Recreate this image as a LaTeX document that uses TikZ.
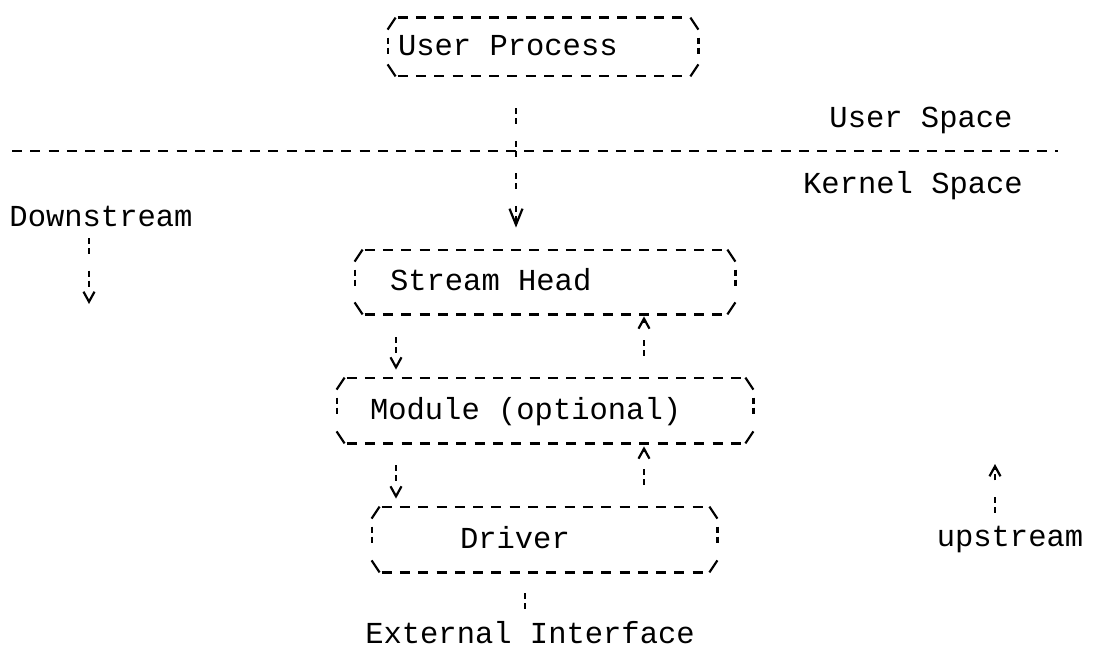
\documentclass[tikz,border=0pt]{standalone}
\usepackage{fontspec}
\setmonofont{Liberation Mono}
\usetikzlibrary{arrows.meta}

% frame of one layer: dashed top and bottom, slanted corners, short sides
\newcommand{\asciibox}[1]{%
  \draw[hdash] ([xshift=5pt]#1.north west) -- ([xshift=-5pt]#1.north east);
  \draw[hdash] ([xshift=5pt]#1.south west) -- ([xshift=-5pt]#1.south east);
  \draw[corner] ([yshift=-6pt]#1.north west) -- ([xshift=4pt]#1.north west);
  \draw[corner] ([yshift=-6pt]#1.north east) -- ([xshift=-4pt]#1.north east);
  \draw[corner] ([yshift=6pt]#1.south west) -- ([xshift=4pt]#1.south west);
  \draw[corner] ([yshift=6pt]#1.south east) -- ([xshift=-4pt]#1.south east);
  \draw[vbar] ([yshift=-10pt]#1.north west) -- ([yshift=10pt]#1.south west);
  \draw[vbar] ([yshift=-10pt]#1.north east) -- ([yshift=10pt]#1.south east);
}

\begin{document}
\begin{tikzpicture}[x=0.5pt,y=-0.5pt,
    lbl/.style={font=\ttfamily\fontsize{15.25}{18}\selectfont,text height=8.7pt,text depth=0pt,inner sep=2pt},
    stage/.style={lbl,align=flush left,inner ysep=0pt},
    hdash/.style={line width=1.1pt,dash pattern=on 5pt off 4.15pt},
    vbar/.style={line width=1.1pt,dash pattern=on 3pt off 2pt on 3pt off 8.25pt},
    corner/.style={line width=1.1pt},
    bigv/.style={-{Straight Barb[length=8pt,width=6.5pt]}},
    smallv/.style={-{Straight Barb[length=5pt,width=5.5pt]}}]
    \useasboundingbox (0,0) rectangle (1098,647);

    % the layers
    \node[stage,inner xsep=5pt,text width=145pt,minimum height=29pt] (up) at (543,47) {User Process};
    \node[stage,inner xsep=17.5pt,text width=155pt,minimum height=32pt] (sh) at (545,282) {Stream Head};
    \node[stage,inner xsep=16.5pt,text width=175pt,minimum height=32.5pt] (mod) at (545,410.5) {Module (optional)};
    \node[stage,inner xsep=44pt,text width=84.5pt,minimum height=32.5pt] (drv) at (544.5,539.5) {Driver};
    \asciibox{up}
    \asciibox{sh}
    \asciibox{mod}
    \asciibox{drv}

    % side labels
    \node[lbl] (usr) at (921,119) {User Space};
    \node[lbl] (krn) at (913,185) {Kernel Space};
    \node[lbl] (dn) at (101,218) {Downstream};
    \node[lbl] (us) at (1010,538) {upstream};
    \node[lbl] (ext) at (530,635) {External Interface};

    % columns of the connectors
    \coordinate (pipe) at (516,0);
    \coordinate (dncol) at (396,0);
    \coordinate (upcol) at (644,0);
    \coordinate (tailcol) at (525,0);
    \coordinate (dnend) at (89,304);
    \coordinate (usend) at (995,464);
    \coordinate (sepl) at (12,151);
    \coordinate (sepr) at (1058,151);

    % user/kernel boundary
    \draw[hdash] (sepl) -- (sepr);

    \draw[vbar,bigv,shorten <=16pt,shorten >=11pt] (up.south -| pipe) -- (sh.north -| pipe);
    \draw[vbar,smallv,shorten <=11.5pt,shorten >=4pt] (sh.south -| dncol) -- (mod.north -| dncol);
    \draw[vbar,smallv,shorten <=11pt,shorten >=1pt] (mod.north -| upcol) -- (sh.south -| upcol);
    \draw[vbar,smallv,shorten <=11pt,shorten >=4pt] (mod.south -| dncol) -- (drv.north -| dncol);
    \draw[vbar,smallv,shorten <=11pt,shorten >=1.5pt] (drv.north -| upcol) -- (mod.south -| upcol);
    \draw[vbar,shorten <=10.5pt,shorten >=3.5pt] (drv.south -| tailcol) -- (ext.north -| tailcol);

    \draw[vbar,smallv,shorten <=3.5pt] (dn.south -| dnend) -- (dnend);
    \draw[vbar,smallv,shorten <=6pt] (us.north -| usend) -- (usend);
\end{tikzpicture}
\end{document}
